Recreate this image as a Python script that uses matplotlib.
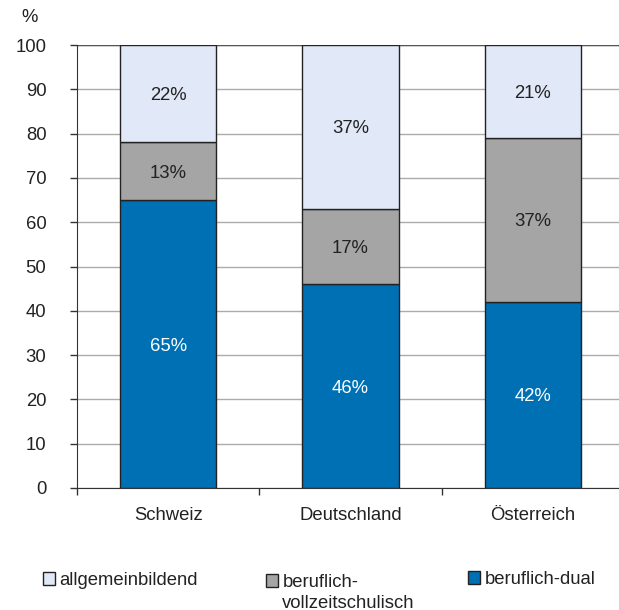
import matplotlib
matplotlib.use("Agg")
import matplotlib.pyplot as plt
import numpy as np

plt.rcParams["font.family"] = ["Liberation Sans", "DejaVu Sans"]

countries = ["Schweiz", "Deutschland", "Österreich"]
dual      = [65, 46, 42]
vollzeit  = [13, 17, 37]
allgemein = [22, 37, 21]
series_labels = ["allgemeinbildend", "beruflich-", "beruflich-dual"]
label_cont = ["", "vollzeitschulisch", ""]

C_DUAL  = "#0070B4"
C_VOLL  = "#A5A5A5"
C_ALLG  = "#E1E8F7"
EDGE    = "#222222"
TXT     = "#222222"
FS      = 13.3

fig = plt.figure(figsize=(6.19, 6.10), dpi=100)
# right edge of the axes runs past the figure, as in the original
ax = fig.add_axes([77 / 619, 1 - 488 / 610, 547 / 619, 443 / 610])

x = np.arange(len(countries))
w = 0.53
dual = np.array(dual); vollzeit = np.array(vollzeit); allgemein = np.array(allgemein)

b1 = ax.bar(x, dual, w, color=C_DUAL, edgecolor=EDGE, lw=1.0, zorder=3)
b2 = ax.bar(x, vollzeit, w, bottom=dual, color=C_VOLL, edgecolor=EDGE, lw=1.0, zorder=3)
b3 = ax.bar(x, allgemein, w, bottom=dual + vollzeit, color=C_ALLG, edgecolor=EDGE, lw=1.0, zorder=3)

# segment labels
for i in range(len(countries)):
    ax.text(x[i], dual[i] / 2, f"{dual[i]}%", ha="center", va="center_baseline",
            color="white", fontsize=FS)
    ax.text(x[i], dual[i] + vollzeit[i] / 2, f"{vollzeit[i]}%", ha="center",
            va="center_baseline", color=TXT, fontsize=FS)
    ax.text(x[i], dual[i] + vollzeit[i] + allgemein[i] / 2, f"{allgemein[i]}%",
            ha="center", va="center_baseline", color=TXT, fontsize=FS)

ax.set_xlim(-0.5, 2.5)
ax.set_ylim(0, 100)
ax.set_yticks(range(0, 101, 10))
ax.yaxis.grid(True, color="#ABABAB", lw=1.0, zorder=0)
ax.axhline(100, color="#555555", lw=1.0, zorder=1)
ax.set_axisbelow(True)
ax.set_xticks(x)
ax.set_xticklabels(countries)
ax.set_xticks([-0.5, 0.5, 1.5], minor=True)
ax.tick_params(axis="x", which="major", length=0, pad=14, labelsize=FS, labelcolor=TXT)
ax.tick_params(axis="x", which="minor", length=5, width=1, color="#333333")
ax.tick_params(axis="y", length=5, width=1, color="#333333", pad=17, labelsize=FS,
               labelcolor=TXT)
for s in ["top", "right"]:
    ax.spines[s].set_visible(False)
ax.spines["left"].set_color("#333333")
ax.spines["bottom"].set_color("#333333")

fig.text(30 / 619, 1 - 18 / 610, "%", ha="center", va="center", fontsize=FS, color=TXT)

# legend: three single entries placed separately
handles = [b3[0], b2[0], b1[0]]
lx = [43, 266, 468]
ly = [572, 574, 571]
for h, lab, cont, xx, yy in zip(handles, series_labels, label_cont, lx, ly):
    lg = fig.legend([h], [lab], loc="upper left", bbox_to_anchor=(xx / 619, 1 - yy / 610),
                    frameon=False, fontsize=FS, handlelength=0.65, handleheight=0.65,
                    handletextpad=0.25, borderaxespad=0, borderpad=0)
    for t in lg.get_texts():
        t.set_color(TXT)
    if cont:
        fig.text((xx + 16) / 619, 1 - 603 / 610, cont, ha="left", va="center",
                 fontsize=FS, color=TXT)

fig.savefig("out.png", dpi=100)
